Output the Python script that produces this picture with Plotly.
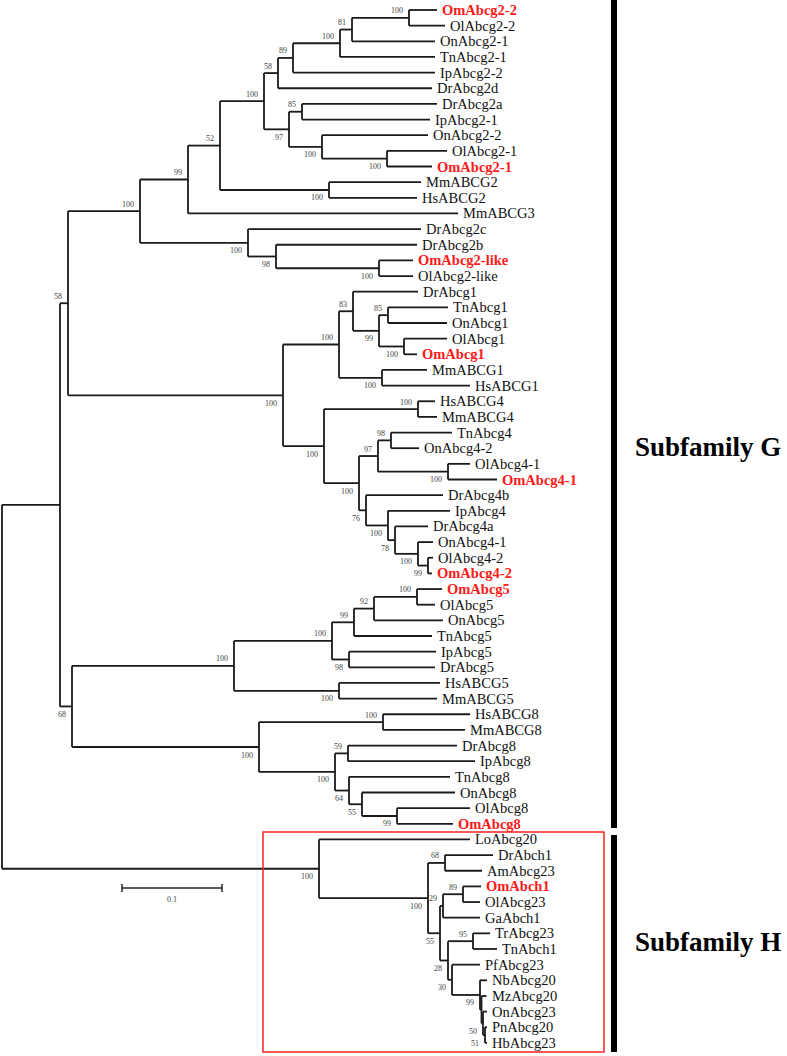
import plotly.graph_objects as go

# ---- Tree data: (child, parent, branch length, bootstrap of child) ----
edges_root = [
    ("nG", "root", 0.058, ""),
    ("nH", "root", 0.317, "100"),
]

edges_abcg2 = [
    ("nA", "nG", 0.008, "58"),
    ("nA1", "nA", 0.072, "100"),
    ("n99", "nA1", 0.048, "99"),
    ("n52", "n99", 0.032, "52"),
    ("n264", "n52", 0.044, "100"),
    ("n278", "n264", 0.014, "58"),
    ("n293", "n278", 0.015, "89"),
    ("n340", "n293", 0.047, "100"),
    ("n352", "n340", 0.012, "81"),
    ("n409", "n352", 0.057, "100"),
    ("OmAbcg2-2", "n409", 0.028, ""),
    ("OlAbcg2-2", "n409", 0.036, ""),
    ("OnAbcg2-1", "n352", 0.083, ""),
    ("TnAbcg2-1", "n340", 0.095, ""),
    ("IpAbcg2-2", "n293", 0.142, ""),
    ("DrAbcg2d", "n278", 0.154, ""),
    ("n289", "n264", 0.025, "97"),
    ("n302", "n289", 0.013, "85"),
    ("DrAbcg2a", "n302", 0.135, ""),
    ("IpAbcg2-1", "n302", 0.128, ""),
    ("n322", "n289", 0.033, "100"),
    ("OnAbcg2-2", "n322", 0.106, ""),
    ("n387", "n322", 0.065, "100"),
    ("OlAbcg2-1", "n387", 0.060, ""),
    ("OmAbcg2-1", "n387", 0.045, ""),
    ("n329", "n52", 0.109, "100"),
    ("MmABCG2", "n329", 0.092, ""),
    ("HsABCG2", "n329", 0.088, ""),
    ("MmABCG3", "n99", 0.270, ""),
    ("n2c", "nA1", 0.108, "100"),
    ("DrAbcg2c", "n2c", 0.173, ""),
    ("n276", "n2c", 0.028, "98"),
    ("DrAbcg2b", "n276", 0.141, ""),
    ("n379a", "n276", 0.103, "100"),
    ("OmAbcg2-like", "n379a", 0.034, ""),
    ("OlAbcg2-like", "n379a", 0.034, ""),
]

edges_abcg1_4 = [
    ("nA2", "nA", 0.215, "100"),
    ("n339", "nA2", 0.056, "100"),
    ("n353", "n339", 0.014, "83"),
    ("DrAbcg1", "n353", 0.065, ""),
    ("n379b", "n353", 0.026, "99"),
    ("n388a", "n379b", 0.009, "85"),
    ("TnAbcg1", "n388a", 0.060, ""),
    ("OnAbcg1", "n388a", 0.059, ""),
    ("n404", "n379b", 0.025, "100"),
    ("OlAbcg1", "n404", 0.043, ""),
    ("OmAbcg1", "n404", 0.013, ""),
    ("n382", "n339", 0.043, "100"),
    ("MmABCG1", "n382", 0.045, ""),
    ("HsABCG1", "n382", 0.088, ""),
    ("n324", "nA2", 0.041, "100"),
    ("n418a", "n324", 0.094, "100"),
    ("HsABCG4", "n418a", 0.017, ""),
    ("MmABCG4", "n418a", 0.019, ""),
    ("n359", "n324", 0.035, "100"),
    ("n378", "n359", 0.019, "97"),
    ("n391", "n378", 0.013, "98"),
    ("TnAbcg4", "n391", 0.061, ""),
    ("OnAbcg4-2", "n391", 0.028, ""),
    ("n449", "n378", 0.070, "100"),
    ("OlAbcg4-1", "n449", 0.022, ""),
    ("OmAbcg4-1", "n449", 0.049, ""),
    ("n366", "n359", 0.007, "76"),
    ("DrAbcg4b", "n366", 0.077, ""),
    ("n388b", "n366", 0.022, "100"),
    ("IpAbcg4", "n388b", 0.062, ""),
    ("n395", "n388b", 0.007, "78"),
    ("DrAbcg4a", "n395", 0.033, ""),
    ("n418b", "n395", 0.023, "100"),
    ("OnAbcg4-1", "n418b", 0.015, ""),
    ("n428", "n418b", 0.010, "99"),
    ("OlAbcg4-2", "n428", 0.005, ""),
    ("OmAbcg4-2", "n428", 0.004, ""),
]

edges_abcg5_8 = [
    ("nB", "nG", 0.012, "68"),
    ("n234", "nB", 0.162, "100"),
    ("n332", "n234", 0.098, "100"),
    ("n354", "n332", 0.022, "99"),
    ("n374", "n354", 0.020, "92"),
    ("n417", "n374", 0.043, "100"),
    ("OmAbcg5", "n417", 0.025, ""),
    ("OlAbcg5", "n417", 0.018, ""),
    ("OnAbcg5", "n374", 0.069, ""),
    ("TnAbcg5", "n354", 0.078, ""),
    ("n349a", "n332", 0.017, "98"),
    ("IpAbcg5", "n349a", 0.087, ""),
    ("DrAbcg5", "n349a", 0.086, ""),
    ("n339b", "n234", 0.105, "100"),
    ("HsABCG5", "n339b", 0.101, ""),
    ("MmABCG5", "n339b", 0.098, ""),
    ("n259", "nB", 0.187, "100"),
    ("n383", "n259", 0.124, "100"),
    ("HsABCG8", "n383", 0.087, ""),
    ("MmABCG8", "n383", 0.082, ""),
    ("n335", "n259", 0.076, "100"),
    ("n348", "n335", 0.013, "59"),
    ("DrAbcg8", "n348", 0.109, ""),
    ("IpAbcg8", "n348", 0.127, ""),
    ("n349b", "n335", 0.014, "64"),
    ("TnAbcg8", "n349b", 0.101, ""),
    ("n362", "n349b", 0.013, "55"),
    ("OnAbcg8", "n362", 0.093, ""),
    ("n397", "n362", 0.035, "99"),
    ("OlAbcg8", "n397", 0.073, ""),
    ("OmAbcg8", "n397", 0.056, ""),
]

edges_h = [
    ("LoAbcg20", "nH", 0.151, ""),
    ("nH2", "nH", 0.109, "100"),
    ("n445", "nH2", 0.017, "68"),
    ("DrAbch1", "n445", 0.048, ""),
    ("AmAbcg23", "n445", 0.037, ""),
    ("n440", "nH2", 0.012, "55"),
    ("n443", "n440", 0.003, "29"),
    ("n463", "n443", 0.020, "89"),
    ("OmAbch1", "n463", 0.018, ""),
    ("OlAbcg23", "n463", 0.017, ""),
    ("GaAbch1", "n443", 0.037, ""),
    ("n448", "n440", 0.008, "28"),
    ("n473", "n448", 0.025, "95"),
    ("TrAbcg23", "n473", 0.017, ""),
    ("TnAbch1", "n473", 0.024, ""),
    ("n452", "n448", 0.004, "30"),
    ("PfAbcg23", "n452", 0.028, ""),
    ("n480", "n452", 0.028, "99"),
    ("NbAbcg20", "n480", 0.007, ""),
    ("n481", "n480", 0.0015, ""),
    ("MzAbcg20", "n481", 0.005, ""),
    ("n483", "n481", 0.0015, "50"),
    ("OnAbcg23", "n483", 0.004, ""),
    ("n485", "n483", 0.002, "51"),
    ("PnAbcg20", "n485", 0.002, ""),
    ("HbAbcg23", "n485", 0.002, ""),
]

highlight_prefix = "Om"
scale_bar_length = 0.1
subfamily_labels = ["Subfamily G", "Subfamily H"]

# ---- Build tree ----
edges = edges_root + edges_abcg2 + edges_abcg1_4 + edges_abcg5_8 + edges_h
children, blen, support = {}, {}, {}
for c, p, l, s in edges:
    children.setdefault(p, []).append(c)
    blen[c] = l
    support[c] = s

xpos = {"root": 0.0}
ypos = {}
leaves = []


def layout(n):
    if n not in children:
        ypos[n] = len(leaves)
        leaves.append(n)
        return
    for c in children[n]:
        xpos[c] = xpos[n] + blen[c]
        layout(c)
    ypos[n] = (ypos[children[n][0]] + ypos[children[n][-1]]) / 2


layout("root")

lx, ly = [], []
for n, kids in children.items():
    lx += [xpos[n], xpos[n], None]
    ly += [ypos[kids[0]], ypos[kids[-1]], None]
    for c in kids:
        lx += [xpos[n], xpos[c], None]
        ly += [ypos[c], ypos[c], None]

W, H = 787, 1056
ROW = 15.65
TOP = 10.0
PXU = 1000.0  # pixels per unit branch length
X0 = 2.0

fig = go.Figure()
fig.add_trace(go.Scatter(x=lx, y=ly, mode="lines",
                         line=dict(color="#1a1a1a", width=1.8),
                         hoverinfo="skip", showlegend=False))

FONT = "Liberation Serif, Times New Roman, serif"
annotations = []
for n in leaves:
    red = n.startswith(highlight_prefix)
    annotations.append(dict(
        x=xpos[n], y=ypos[n], xref="x", yref="y",
        text=f"<b>{n}</b>" if red else n, showarrow=False,
        xanchor="left", yanchor="middle", xshift=3,
        font=dict(family=FONT, size=14.5, color="#ff1a1a" if red else "#111"),
    ))

for n, kids in children.items():
    for i, c in enumerate(kids):
        if support.get(c):
            above = (i == 0)
            annotations.append(dict(
                x=xpos[c], y=ypos[c], xref="x", yref="y",
                text=support[c], showarrow=False,
                xanchor="right", yanchor="middle", xshift=-4,
                yshift=7 if above else -8,
                font=dict(family=FONT, size=8, color="#444"),
            ))


def py(px):
    return 1 - px / H


shapes = []
# scale bar
sb_x0 = 0.12
sb_y = 888
shapes.append(dict(type="line", xref="x", yref="paper", x0=sb_x0, x1=sb_x0 + scale_bar_length,
                   y0=py(sb_y), y1=py(sb_y), line=dict(color="#222", width=1.5)))
for xx in (sb_x0, sb_x0 + scale_bar_length):
    shapes.append(dict(type="line", xref="x", yref="paper", x0=xx, x1=xx,
                       y0=py(sb_y - 4), y1=py(sb_y + 4), line=dict(color="#222", width=1.5)))
annotations.append(dict(x=sb_x0 + scale_bar_length / 2, y=py(899), xref="x", yref="paper",
                        text=str(scale_bar_length), showarrow=False, xanchor="center", yanchor="middle",
                        font=dict(family=FONT, size=8, color="#444")))

# red box around subfamily H
shapes.append(dict(type="rect", xref="paper", yref="paper", x0=263 / W, x1=604 / W,
                   y0=py(1052), y1=py(832), line=dict(color="#ff2020", width=1.5)))

# subfamily bars
shapes.append(dict(type="line", xref="paper", yref="paper", x0=614 / W, x1=614 / W,
                   y0=py(0), y1=py(828), line=dict(color="black", width=6)))
shapes.append(dict(type="line", xref="paper", yref="paper", x0=614 / W, x1=614 / W,
                   y0=py(835), y1=py(1052), line=dict(color="black", width=6)))

for lab, yc in zip(subfamily_labels, (447, 942)):
    annotations.append(dict(x=633 / W, y=py(yc), xref="paper", yref="paper",
                            text=f"<b>{lab}</b>", showarrow=False, xanchor="left", yanchor="middle",
                            font=dict(family=FONT, size=27, color="black")))

fig.update_layout(
    width=W, height=H, margin=dict(l=0, r=0, t=0, b=0),
    paper_bgcolor="white", plot_bgcolor="white",
    xaxis=dict(range=[-X0 / PXU, (W - X0) / PXU], visible=False, fixedrange=True),
    yaxis=dict(range=[(H - TOP) / ROW, -TOP / ROW], visible=False, fixedrange=True),
    annotations=annotations, shapes=shapes, showlegend=False,
)

fig.write_html("out.html", config={"displayModeBar": False},
               post_script="document.body.style.margin='0px';document.body.style.overflow='hidden';")
